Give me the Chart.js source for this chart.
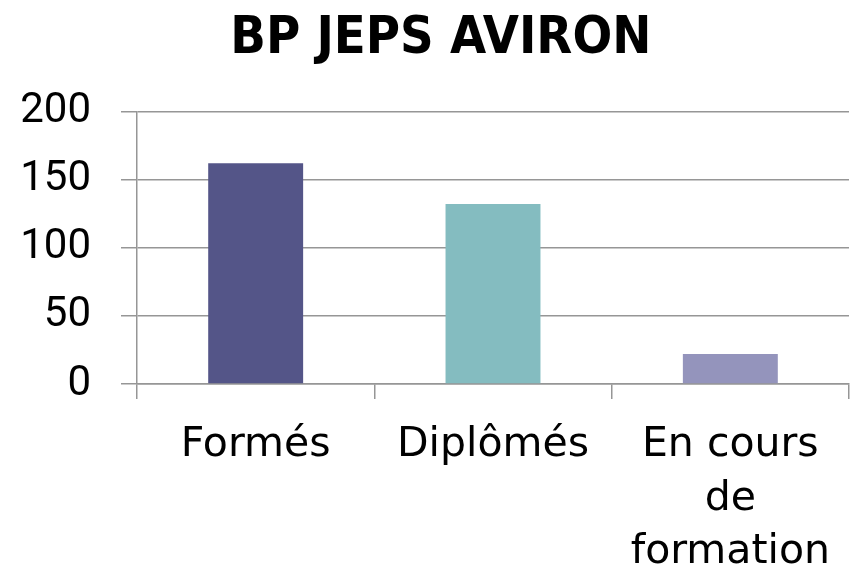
<!DOCTYPE html>
<html>
<head>
<meta charset="utf-8">
<script src="https://cdn.jsdelivr.net/npm/chart.js@4"></script>
<style>
  html, body { margin: 0; padding: 0; background: #fff; }
  #wrap { width: 854px; height: 574px; }
</style>
</head>
<body>
<div id="wrap"><canvas id="chart" width="854" height="574"></canvas></div>
<script>
// Data
const CATEGORIES = ['Formés', 'Diplômés', ['En cours', 'de', 'formation']];
const VALUES = [162, 132, 22];
const BAR_COLORS = ['#545588', '#84bcc0', '#9494bc'];
const Y_TICKS = [0, 50, 100, 150, 200];
const TITLE = 'BP JEPS AVIRON';

const GRID = '#969696';

new Chart(document.getElementById('chart'), {
    type: 'bar',
    data: {
        labels: CATEGORIES,
        datasets: [{
            label: TITLE,
            data: VALUES,
            backgroundColor: BAR_COLORS,
            borderWidth: 0,
            barPercentage: 0.4,
            categoryPercentage: 1
        }]
    },
    options: {
        responsive: false,
        animation: false,
        events: [],
        layout: { padding: { left: 0, right: 5, top: 0, bottom: 0 } },
        plugins: {
            legend: { display: false },
            tooltip: { enabled: false },
            title: {
                display: true,
                text: '\u00a0\u00a0' + TITLE,  // nudge the title a bit right, as in the reference
                color: '#000',
                font: { family: 'DejaVu Sans Condensed', weight: 'bold', size: 52 },
                padding: { top: 8, bottom: 41 }
            }
        },
        scales: {
            x: {
                afterFit: function(scale) { scale.height = 190; },  // keep plot bottom where the reference has it
                grid: {
                    offset: true,
                    drawOnChartArea: false,
                    color: GRID,
                    lineWidth: 1.5,
                    tickLength: 15
                },
                border: { color: GRID, width: 1.5 },
                ticks: {
                    color: '#000',
                    padding: 20,
                    maxRotation: 0,
                    font: { family: 'DejaVu Sans', size: 41, lineHeight: 1.3 }
                }
            },
            y: {
                min: 0,
                max: 200,
                afterFit: function(scale) { scale.width = 137; },
                afterBuildTicks: function(scale) {
                    scale.ticks = Y_TICKS.map(v => ({ value: v }));
                },
                grid: {
                    color: GRID,
                    lineWidth: 1.5,
                    tickLength: 16
                },
                border: { color: GRID, width: 1.5 },
                ticks: {
                    color: '#000',
                    padding: 30,
                    font: { family: 'Roboto', size: 42 }
                }
            }
        }
    }
});
</script>
</body>
</html>
